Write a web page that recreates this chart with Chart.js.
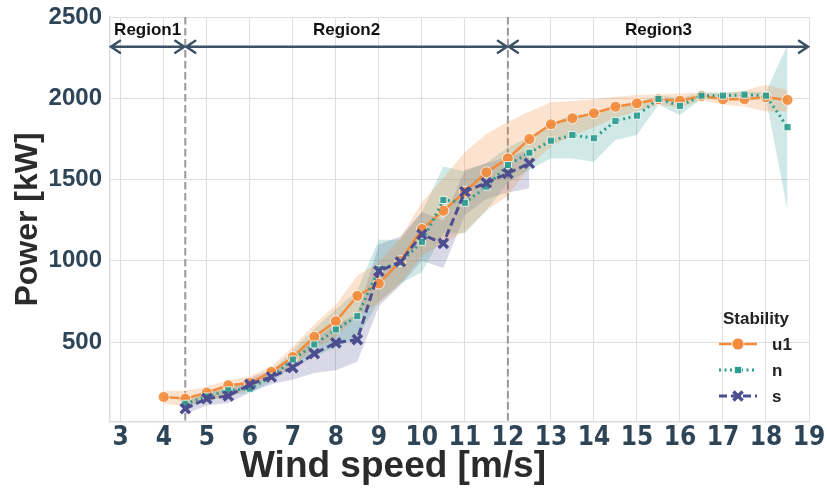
<!DOCTYPE html>
<html>
<head>
<meta charset="utf-8">
<script src="https://cdn.jsdelivr.net/npm/chart.js@4.4.1/dist/chart.umd.min.js"></script>
<style>
  html, body { margin: 0; padding: 0; background: #fff; }
</style>
</head>
<body>
<canvas id="powerChart" width="827" height="488"></canvas>
<script>
// wind speed bins per stability class
const windU1 = [4, 4.5, 5, 5.5, 6, 6.5, 7, 7.5, 8, 8.5, 9, 9.5, 10, 10.5, 11, 11.5, 12, 12.5, 13, 13.5, 14, 14.5, 15, 15.5, 16, 16.5, 17, 17.5, 18, 18.5];
const windN = [4.5, 5, 5.5, 6, 6.5, 7, 7.5, 8, 8.5, 9, 9.5, 10, 10.5, 11, 11.5, 12, 12.5, 13, 13.5, 14, 14.5, 15, 15.5, 16, 16.5, 17, 17.5, 18, 18.5];
const windS = [4.5, 5, 5.5, 6, 6.5, 7, 7.5, 8, 8.5, 9, 9.5, 10, 10.5, 11, 11.5, 12, 12.5];

// mean power [kW]
const powerU1 = [162, 152, 189, 234, 248, 316, 408, 532, 628, 784, 860, 998, 1195, 1308, 1425, 1544, 1630, 1749, 1840, 1877, 1908, 1948, 1969, 1994, 1985, 2014, 1994, 1994, 2006, 1990];
const powerN = [120, 165, 203, 213, 285, 392, 485, 577, 659, 947, 990, 1117, 1374, 1357, 1456, 1589, 1665, 1739, 1774, 1754, 1860, 1893, 1996, 1953, 2016, 2016, 2022, 2016, 1822];
const powerS = [90, 152, 168, 240, 285, 343, 429, 495, 515, 936, 994, 1162, 1107, 1425, 1480, 1538, 1600];

// confidence bands
const u1Hi = [200, 200, 225, 265, 290, 350, 470, 610, 730, 910, 990, 1140, 1360, 1510, 1670, 1780, 1856, 1918, 1975, 1983, 1994, 2010, 2020, 2025, 2030, 2035, 2030, 2050, 2082, 2051];
const u1Lo = [121, 105, 142, 160, 215, 277, 350, 460, 530, 660, 740, 860, 1030, 1110, 1180, 1310, 1400, 1580, 1705, 1770, 1822, 1880, 1920, 1960, 1940, 1990, 1960, 1950, 1918, 1918];
const nHi = [150, 200, 235, 245, 320, 450, 580, 700, 820, 1130, 1130, 1300, 1580, 1550, 1600, 1700, 1760, 1836, 1908, 1887, 1948, 1969, 2020, 2000, 2035, 2035, 2040, 2040, 2330];
const nLo = [95, 135, 175, 185, 255, 345, 410, 470, 530, 750, 860, 930, 1170, 1170, 1310, 1480, 1560, 1630, 1630, 1610, 1743, 1774, 1960, 1897, 1995, 1995, 2000, 1995, 1312];
const sHi = [130, 190, 210, 280, 330, 410, 520, 610, 670, 1100, 1150, 1300, 1250, 1560, 1600, 1640, 1680];
const sLo = [55, 110, 125, 190, 240, 270, 310, 326, 378, 720, 850, 1000, 955, 1280, 1380, 1420, 1446];

const xTicks = [3, 4, 5, 6, 7, 8, 9, 10, 11, 12, 13, 14, 15, 16, 17, 18, 19];
const yTicks = [500, 1000, 1500, 2000, 2500];

const regionNames = ['Region1', 'Region2', 'Region3'];
const regionBounds = [[2.75, 4.5], [4.5, 12], [12, 19]];
const dividers = [4.5, 12];

const orange = '#f28c3c';
const teal = '#2a9d8f';
const purple = '#4d4d8f';

const pts = (xs, ys) => xs.map((x, i) => ({ x: x, y: ys[i] }));

const bandSet = (label, xs, ys, color, target) => ({
  label: label,
  data: pts(xs, ys),
  borderColor: 'transparent',
  borderWidth: 0,
  pointRadius: 0,
  backgroundColor: color,
  fill: target === null ? false : { target: target },
  order: 5
});

const regionPlugin = {
  id: 'regions',
  beforeDatasetsDraw(chart) {
    const { ctx, chartArea, scales: { x } } = chart;
    ctx.save();
    ctx.strokeStyle = '#999999';
    ctx.lineWidth = 2;
    ctx.setLineDash([7.5, 3.5]);
    dividers.forEach(v => {
      const px = x.getPixelForValue(v);
      ctx.beginPath();
      ctx.moveTo(px, chartArea.top);
      ctx.lineTo(px, chartArea.bottom);
      ctx.stroke();
    });
    ctx.restore();
  },
  afterDatasetsDraw(chart) {
    const { ctx, scales: { x, y } } = chart;
    const ay = y.getPixelForValue(2317);
    const ty = y.getPixelForValue(2421);
    ctx.save();
    ctx.strokeStyle = '#3b5166';
    ctx.lineWidth = 2.5;
    ctx.lineCap = 'round';
    regionBounds.forEach((b, i) => {
      const x1 = x.getPixelForValue(b[0]) + 1;
      const x2 = x.getPixelForValue(b[1]) - 1;
      ctx.beginPath();
      ctx.moveTo(x1, ay); ctx.lineTo(x2, ay);
      ctx.moveTo(x1 + 9, ay - 6); ctx.lineTo(x1, ay); ctx.lineTo(x1 + 9, ay + 6);
      ctx.moveTo(x2 - 9, ay - 6); ctx.lineTo(x2, ay); ctx.lineTo(x2 - 9, ay + 6);
      ctx.stroke();
      ctx.fillStyle = '#111111';
      ctx.font = 'bold 17px "Liberation Sans", Arial, sans-serif';
      ctx.textAlign = 'center';
      ctx.textBaseline = 'middle';
      ctx.fillText(regionNames[i], (x1 + x2) / 2, ty);
    });
    ctx.restore();
  }
};

const legendPlugin = {
  id: 'stabilityLegend',
  afterDraw(chart) {
    const ctx = chart.ctx;
    const entries = [
      { name: 'u1', color: orange, dash: [], style: 'circle', r: 6, bw: 1, stroke: 'rgba(255,255,255,0.8)' },
      { name: 'n', color: teal, dash: [2, 3.5], style: 'rect', r: 5, bw: 1, stroke: 'rgba(255,255,255,0.8)' },
      { name: 's', color: purple, dash: [8, 4], style: 'crossRot', r: 6.5, bw: 3.5, stroke: purple }
    ];
    ctx.save();
    // x axis title, centred like the original figure
    ctx.fillStyle = '#2b2b2b';
    ctx.font = 'bold 37px "Liberation Sans", Arial, sans-serif';
    ctx.textAlign = 'center';
    ctx.textBaseline = 'middle';
    ctx.fillText('Wind speed [m/s]', 393, 467);

    ctx.fillStyle = '#222222';
    ctx.font = 'bold 17px "Liberation Sans", Arial, sans-serif';
    ctx.fillText('Stability', 756, 319);
    entries.forEach((e, i) => {
      const ly = 344 + i * 26;
      ctx.save();
      ctx.strokeStyle = e.color;
      ctx.lineWidth = e.name === 'u1' ? 2.5 : 3;
      ctx.setLineDash(e.dash);
      ctx.beginPath();
      ctx.moveTo(719, ly); ctx.lineTo(757, ly);
      ctx.stroke();
      ctx.restore();
      ctx.save();
      ctx.fillStyle = e.color;
      ctx.strokeStyle = e.stroke;
      ctx.lineWidth = e.bw;
      Chart.helpers.drawPoint(ctx, { pointStyle: e.style, radius: e.r, rotation: 0, borderWidth: e.bw }, 738, ly);
      ctx.restore();
      ctx.fillStyle = '#222222';
      ctx.textAlign = 'left';
      ctx.fillText(e.name, 772, ly + 1);
    });
    ctx.restore();
  }
};

const ctx = document.getElementById('powerChart');
const powerChart = new Chart(ctx, {
  type: 'line',
  data: {
    datasets: [
      {
        label: 's', data: pts(windS, powerS),
        borderColor: purple, borderWidth: 3, borderDash: [8, 4],
        pointStyle: 'crossRot', pointRadius: 6.5, pointBorderWidth: 3.5,
        pointBorderColor: purple, pointBackgroundColor: purple,
        fill: false, order: 0
      },
      {
        label: 'n', data: pts(windN, powerN),
        borderColor: teal, borderWidth: 3, borderDash: [2, 3.5],
        pointStyle: 'rect', pointRadius: 5, pointBorderWidth: 1,
        pointBorderColor: 'rgba(255,255,255,0.8)', pointBackgroundColor: 'rgba(42,157,143,0.9)',
        fill: false, order: 1
      },
      {
        label: 'u1', data: pts(windU1, powerU1),
        borderColor: orange, borderWidth: 2.5,
        pointStyle: 'circle', pointRadius: 5.5, pointBorderWidth: 1,
        pointBorderColor: 'rgba(255,255,255,0.8)', pointBackgroundColor: 'rgba(242,140,60,0.9)',
        fill: false, order: 2
      },
      bandSet('u1 hi', windU1, u1Hi, 'rgba(242,140,60,0.24)', 4),
      bandSet('u1 lo', windU1, u1Lo, 'transparent', null),
      bandSet('n hi', windN, nHi, 'rgba(42,157,143,0.22)', 6),
      bandSet('n lo', windN, nLo, 'transparent', null),
      bandSet('s hi', windS, sHi, 'rgba(77,77,143,0.22)', 8),
      bandSet('s lo', windS, sLo, 'transparent', null)
    ]
  },
  options: {
    responsive: false,
    animation: false,
    devicePixelRatio: 1,
    layout: { autoPadding: false, padding: { top: 17, right: 18, left: 0, bottom: 0 } },
    plugins: { legend: { display: false }, tooltip: { enabled: false } },
    elements: { line: { tension: 0 } },
    scales: {
      x: {
        type: 'linear', min: 2.75, max: 19,
        afterBuildTicks: s => { s.ticks = xTicks.map(v => ({ value: v })); },
        afterFit: s => { s.height = 66; s.paddingLeft = 0; s.paddingRight = 0; },
        grid: { color: '#dedede', lineWidth: 1, drawTicks: false },
        border: { color: '#dedede', width: 1.5 },
        ticks: {
          padding: 1, color: '#2e4457',
          callback: v => String(v),
          font: { family: '"Liberation Sans Narrow", "Arial Narrow", "DejaVu Sans Condensed", "Liberation Sans", Arial, sans-serif', size: 26, weight: 'bold' }
        },
        title: { display: false }
      },
      y: {
        min: 8, max: 2500,
        afterBuildTicks: s => { s.ticks = yTicks.map(v => ({ value: v })); },
        afterFit: s => { s.width = 110; s.paddingTop = 0; s.paddingBottom = 0; },
        grid: { color: '#dedede', lineWidth: 1, drawTicks: false },
        border: { color: '#dedede', width: 1.5 },
        ticks: {
          padding: 8, color: '#2e4457',
          callback: v => String(v),
          font: { family: '"Liberation Sans", Arial, sans-serif', size: 24, weight: 'bold' }
        },
        title: {
          display: true, text: 'Power [kW]', color: '#2b2b2b',
          padding: { top: 9, bottom: 0 },
          font: { family: '"Liberation Sans", Arial, sans-serif', size: 32, weight: 'bold' }
        }
      }
    }
  },
  plugins: [regionPlugin, legendPlugin]
});
</script>
</body>
</html>
